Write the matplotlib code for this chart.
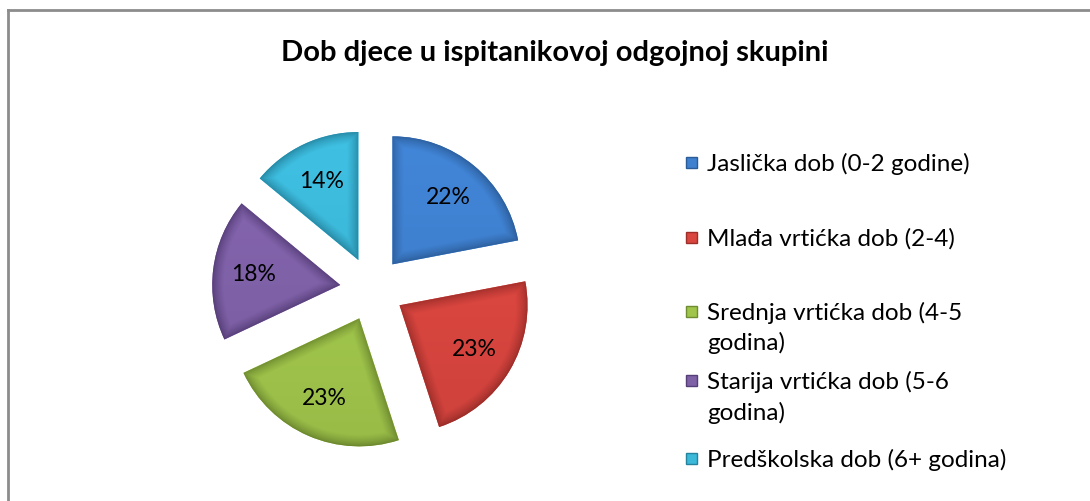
import numpy as np
import matplotlib
matplotlib.use("Agg")
import matplotlib.pyplot as plt
from matplotlib.patches import Rectangle

# data
categories = ["Jaslička dob (0-2 godine)", "Mlađa vrtićka dob (2-4)",
              "Srednja vrtićka dob (4-5\ngodina)", "Starija vrtićka dob (5-6\ngodina)",
              "Predškolska dob (6+ godina)"]
values = [22, 23, 23, 18, 14]
colors = ["#3f80cf", "#d9453f", "#a0c54b", "#7f61a8", "#3cb8d9"]
edge_colors = ["#2b5c98", "#9e2e2a", "#6f8c30", "#563e78", "#25839e"]
title = "Dob djece u ispitanikovoj odgojnoj skupini"

W, H = 1090, 501
plt.rcParams['font.family'] = ['Lato', 'DejaVu Sans']
fig = plt.figure(figsize=(W / 100, H / 100), dpi=100)

# chart border (top + left only visible)
fig.add_artist(plt.Line2D([8 / W, 8 / W], [0, 1 - 10 / H], transform=fig.transFigure, color="#8c8c8c", lw=2))
fig.add_artist(plt.Line2D([8 / W, 1], [1 - 10 / H, 1 - 10 / H], transform=fig.transFigure, color="#8c8c8c", lw=2))

fig.text(555 / W, 1 - 53 / H, title, ha="center", va="center", fontsize=21, fontweight="bold")

# pie axes
cx, cy, r = 372, 289, 128
half = 170
ax = fig.add_axes([(cx - half) / W, (H - cy - half) / H, 2 * half / W, 2 * half / H])
explode = [0.25] * len(values)
wedges, texts, autotexts = ax.pie(values, colors=colors, startangle=90, counterclock=False,
                                  explode=explode, autopct="%1.0f%%", pctdistance=0.68,
                                  textprops=dict(fontsize=16.5, color="black", zorder=5))
lim = half / r
ax.set_xlim(-lim, lim)
ax.set_ylim(-lim, lim)
ax.set_aspect("equal")
ax.axis("off")

# bevel shading inside each wedge
n = 500
gx, gy = np.meshgrid(np.linspace(-lim, lim, n), np.linspace(-lim, lim, n))
bevel = 0.09
for w, c, ec in zip(wedges, colors, edge_colors):
    th1, th2 = np.deg2rad(w.theta1), np.deg2rad(w.theta2)
    x0, y0 = w.center
    px, py = gx - x0, gy - y0
    rho = np.hypot(px, py)
    ang = np.arctan2(py, px)
    a1 = (ang - th1) % (2 * np.pi)
    a2 = (th2 - ang) % (2 * np.pi)
    d = np.minimum(w.r - rho, np.minimum(rho * np.sin(np.clip(a1, 0, np.pi / 2)),
                                         rho * np.sin(np.clip(a2, 0, np.pi / 2))))
    s = np.clip(d / bevel, 0, 1) ** 0.7
    base = np.array(matplotlib.colors.to_rgb(c))
    dark = np.array(matplotlib.colors.to_rgb(ec))
    img = dark[None, None, :] * (1 - s[..., None]) + base[None, None, :] * s[..., None]
    # slight light from top
    img = np.clip(img * (1 + 0.05 * (gy[..., None] - y0)), 0, 1)
    im = ax.imshow(img, extent=(-lim, lim, -lim, lim), origin="lower", zorder=2, interpolation="bilinear")
    im.set_clip_path(w)
    w.set_edgecolor("none")

# legend
leg_y = [162, 237, 311, 380, 458]
for lab, c, ec, y in zip(categories, colors, edge_colors, leg_y):
    fig.add_artist(Rectangle((686 / W, 1 - (y + 6) / H), 11 / W, 11 / H, transform=fig.transFigure,
                             facecolor=c, edgecolor=ec, lw=1))
    for k, line in enumerate(lab.split("\n")):
        fig.text(707 / W, 1 - (y + 9 + 30.5 * k) / H, line, ha="left", va="baseline", fontsize=17.5)

fig.savefig("out.png", dpi=100)
